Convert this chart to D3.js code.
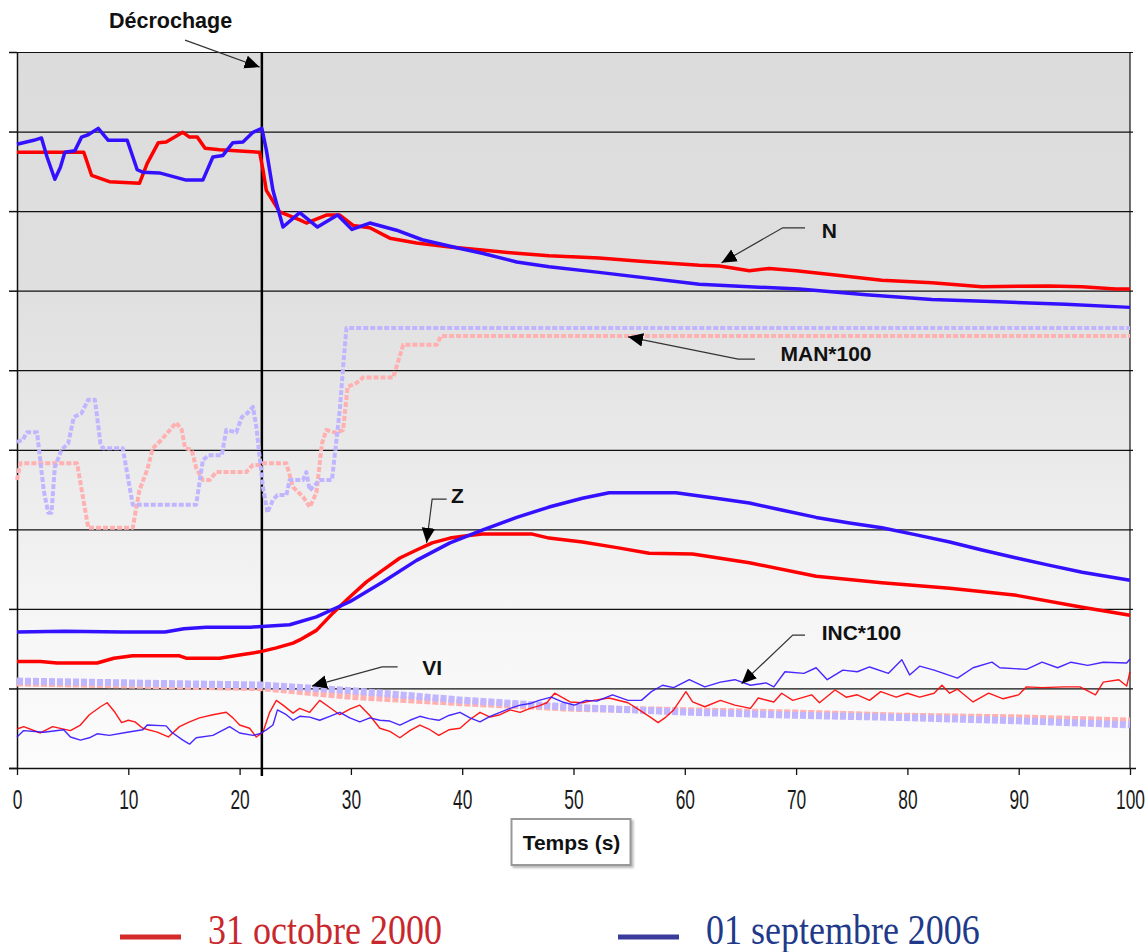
<!DOCTYPE html>
<html><head><meta charset="utf-8">
<script src="https://cdn.jsdelivr.net/npm/d3@7"></script>
<style>
html,body{margin:0;padding:0;background:#fff;}
svg{display:block;}
</style></head>
<body>
<svg id="chart" width="1147" height="952"></svg>
<script>
// ---------- data (time in s, value in chart units 0-90) ----------
const xTicks = [0,10,20,30,40,50,60,70,80,90,100];
const yTicks = [0,10,20,30,40,50,60,70,80,90];
const stallTime = 22;
const legendLabels = ["31 octobre 2000", "01 septembre 2006"];

const nRed = [[0,77.4],[6,77.4],[6.7,74.5],[8.3,73.7],[11,73.5],[11.7,76.0],[12.7,78.6],[13.4,78.7],[14.9,79.9],[15.5,79.3],[16.2,79.3],[16.9,77.9],[18.2,77.7],[21.8,77.4],[22.1,75.2],[22.4,72.6],[23.6,69.9],[25.4,68.9],[26,68.5],[27.8,69.5],[29,69.5],[30.2,68.2],[31.7,67.9],[33.5,66.6],[35.9,66.0],[38.9,65.5],[41.8,65.1],[44.9,64.7],[47.8,64.4],[52.3,64.1],[56,63.7],[61.3,63.2],[63.1,63.1],[64,62.9],[65.8,62.5],[67.6,62.8],[70,62.5],[73.3,62.0],[77.7,61.3],[82.2,61.0],[86.7,60.5],[92.7,60.6],[95.7,60.5],[98.7,60.2],[100,60.2]];
const nBlue = [[0,78.4],[1.5,78.9],[2.2,79.2],[2.7,76.8],[3.4,74.0],[3.9,75.5],[4.3,77.4],[5.2,77.6],[5.8,79.3],[6.4,79.6],[7.3,80.4],[8.2,78.9],[9.9,78.9],[10.8,75.2],[11.3,74.9],[12.8,74.8],[15.2,73.9],[16.7,73.9],[17.6,76.8],[18.5,77.0],[19.4,78.6],[20.3,78.7],[21.2,79.9],[22,80.4],[22.4,77.7],[23,72.6],[23.9,68.0],[25.4,69.8],[27,68.0],[28.8,69.5],[30.1,67.7],[31.7,68.5],[34.1,67.6],[36.4,66.4],[39.5,65.4],[41.8,64.7],[44.9,63.6],[47.8,63.0],[52.3,62.3],[61.3,60.8],[70.3,60.2],[76.3,59.5],[82.2,58.9],[88.2,58.6],[94.2,58.3],[100,57.9]];

const manRed = [[0,36.2],[0.3,38.3],[5.4,38.3],[6.4,30.2],[10.4,30.2],[11,34.9],[11.7,37.5],[12.2,40.2],[12.8,41.0],[13.5,42.1],[14.3,43.4],[14.8,42.5],[15.1,40.2],[15.7,40.0],[16.1,37.7],[16.7,36.2],[17.3,36.2],[17.9,37.2],[20.6,37.2],[21.2,38.1],[21.8,38.1],[22,38.3],[24.2,38.3],[24.8,35.3],[25.7,34.1],[26.3,32.8],[26.9,34.6],[27.4,40.8],[27.8,42.5],[28.7,42.1],[29.3,42.5],[29.7,47.9],[30.5,48.4],[31.1,49.1],[33.8,49.1],[34.7,53.2],[37.7,53.2],[38.1,54.3],[100,54.3]];
const manBlue = [[0,41.0],[0.5,41.2],[0.9,42.2],[1.8,42.2],[2.4,34.9],[2.8,32.1],[3.1,32.1],[3.4,37.8],[4,40.0],[4.6,40.8],[5.1,44.1],[5.8,44.6],[6.4,46.3],[7,46.3],[7.5,40.8],[7.7,40.2],[9.5,40.2],[10.4,33.1],[16.1,33.1],[16.7,38.7],[17.2,39.3],[18.4,39.3],[18.8,42.5],[19.7,42.2],[20.2,44.1],[20.7,44.6],[21.2,45.4],[21.5,42.9],[21.8,39.1],[22.1,35.3],[22.5,32.1],[23,33.7],[23.4,34.3],[24.2,34.3],[24.5,36.2],[25.7,36.2],[26,37.2],[26.3,34.9],[27.2,36.2],[28.3,36.2],[28.7,41.2],[29,45.0],[29.3,50.4],[29.6,55.3],[100,55.3]];

const zRed = [[0,13.4],[2.1,13.4],[3.6,13.2],[7.2,13.2],[8.7,13.8],[10.4,14.1],[14.6,14.1],[15.2,13.8],[18.2,13.8],[20,14.2],[21.8,14.6],[23.3,15.1],[24.8,15.7],[25.4,16.1],[26.9,17.3],[28.4,19.5],[29.9,21.5],[31.4,23.4],[32.9,24.9],[34.4,26.4],[35.9,27.4],[37.3,28.3],[38.9,28.9],[40.4,29.2],[41.8,29.4],[46.3,29.4],[47.8,28.9],[50.8,28.4],[53.9,27.7],[56.8,27.0],[60.7,26.9],[65.8,25.8],[71.8,24.1],[77.7,23.3],[83.8,22.6],[89.8,21.7],[95.7,20.2],[100,19.2]];
const zBlue = [[0,17.1],[4.3,17.2],[9.5,17.1],[13.3,17.1],[15,17.5],[17,17.7],[21,17.7],[24.5,18.0],[26.9,19.0],[29.9,20.9],[32.9,23.4],[35.9,26.1],[38.9,28.3],[41.8,29.9],[44.9,31.5],[47.8,32.8],[50.8,33.9],[53.2,34.6],[59.2,34.6],[62.8,33.9],[65.8,33.3],[68.8,32.4],[71.8,31.5],[74.8,30.8],[77.7,30.2],[80.8,29.3],[83.8,28.4],[86.7,27.4],[89.8,26.4],[92.7,25.5],[95.7,24.6],[100,23.6]];

const viRed = [[0,10.7],[22,10.1],[30,9.0],[40,8.2],[50,7.5],[60,7.2],[70,6.9],[80,6.5],[90,6.3],[100,5.9]];
const viBlue = [[0,10.8],[22,10.3],[30,9.6],[40,8.4],[50,7.5],[60,6.9],[70,6.5],[80,6.2],[90,5.8],[100,5.3]];

const incRed = [[0,4.9],[0.6,5.2],[2.1,4.4],[3.2,5.2],[4.8,4.7],[5.7,5.4],[6.5,6.7],[7.5,7.7],[8.1,8.2],[8.8,7.0],[9.4,5.7],[10,6.0],[10.6,5.8],[11.3,5.0],[12.6,4.5],[13.6,3.9],[14.6,5.2],[15.5,5.8],[16.4,6.3],[17.6,6.7],[18.8,7.0],[19.4,6.3],[20,5.4],[20.9,5.0],[21.5,3.9],[22.1,4.5],[22.7,7.0],[23.3,8.5],[23.9,7.9],[24.8,6.9],[25.4,7.5],[26.3,7.0],[27.2,8.5],[28.1,7.6],[29,6.7],[29.9,7.4],[30.8,7.9],[31.7,6.6],[32.6,5.0],[33.5,4.6],[34.4,3.8],[35.3,4.7],[36.2,5.4],[37,4.9],[37.9,4.1],[38.8,4.8],[39.8,5.0],[40.7,6.1],[41.6,7.0],[42.5,6.4],[43.4,6.7],[44.3,7.3],[45.2,7.0],[46.1,7.5],[46.9,7.8],[47.6,8.2],[48.3,9.4],[49.7,8.3],[50.8,8.2],[51.8,8.5],[53.2,8.8],[54.9,8.2],[55.9,7.3],[57,6.3],[57.6,5.7],[58.3,6.4],[59,7.3],[60.1,9.6],[60.7,8.3],[61.8,7.7],[63.2,8.5],[64.5,7.9],[65.9,7.5],[66.6,8.8],[68,8.3],[68.7,9.4],[69.7,8.5],[71.4,9.2],[72.1,8.2],[73.5,9.8],[74.5,8.9],[75.5,9.2],[76.6,8.5],[77.6,9.6],[79,8.9],[80,9.4],[81.1,8.9],[82.4,9.4],[83.1,10.4],[83.8,9.4],[84.5,9.9],[85.9,8.3],[87.3,9.4],[88.6,8.7],[90,9.2],[90.7,10.2],[92.1,10.1],[94.1,10.2],[95.5,10.2],[96.9,9.2],[97.6,10.8],[99,11.1],[99.7,10.3],[100,12.1]];
const incBlue = [[0,3.9],[0.6,4.7],[2.4,4.5],[4.2,4.8],[4.8,3.9],[5.7,3.5],[6.5,3.8],[7.2,4.3],[8.3,4.1],[9.9,4.5],[11.3,4.8],[11.7,5.4],[13.4,5.3],[13.9,4.5],[14.9,3.5],[15.5,3.0],[16.1,3.8],[17.6,4.1],[19.1,5.2],[20,4.4],[21.2,4.1],[21.8,4.3],[22.4,4.8],[23,5.4],[23.4,7.3],[24.2,6.7],[24.8,6.0],[25.4,6.5],[26.3,6.4],[27.2,6.0],[28.1,6.5],[29,7.0],[29.9,6.3],[30.8,5.8],[31.7,6.3],[32.6,6.0],[33.5,5.9],[34.4,5.4],[35.3,6.0],[36.2,6.5],[37,6.2],[37.9,6.0],[38.8,6.6],[39.8,7.0],[40.7,6.3],[41.6,5.8],[42.5,6.5],[43.4,7.0],[44.3,7.5],[45.2,7.9],[46.1,8.1],[46.9,8.5],[48,8.9],[49,8.3],[50.1,7.9],[51.1,8.5],[52.1,8.4],[53.5,9.2],[54.9,8.5],[56.1,8.5],[57,9.6],[58,10.4],[59,10.1],[60.4,11.1],[61.8,10.2],[63.2,10.8],[64.5,11.1],[65.9,10.4],[67.3,10.7],[68,10.2],[69,12.1],[70.7,11.9],[71.8,12.6],[72.8,11.1],[74.2,12.3],[75.5,12.1],[76.6,12.7],[78.3,11.9],[79.5,13.6],[80.2,11.7],[81.1,12.8],[82.4,12.3],[84.5,11.3],[85.9,12.6],[87.6,13.3],[88.3,12.6],[90.7,12.4],[92.1,13.3],[93.5,12.6],[94.7,13.3],[96.2,12.9],[97.6,13.3],[99.7,13.2],[100,13.7]];

// annotations: label, text anchor point [t,v], leader path points [t,v] ending at arrow tip
const annotations = [
  {label:"N",       text:[72.3,67.6], path:[[70.8,67.9],[68.8,67.9],[63.3,63.5]]},
  {label:"MAN*100", text:[68.6,52.1], path:[[66.3,51.4],[64.8,51.4],[54.9,54.2]]},
  {label:"Z",       text:[39.0,34.2], path:[[38.6,33.8],[37.3,33.8],[36.8,28.3]]},
  {label:"VI",      text:[36.4,12.7], path:[[34.2,12.7],[32.8,12.7],[26.5,10.3]]},
  {label:"INC*100", text:[72.3,17.1], path:[[70.8,16.7],[69.7,16.7],[65.1,10.6]]}
];
const stallLabel = {label:"Décrochage", text:[13.8,94.0], path:[[15.1,91.5],[21.8,88.1]]};

// ---------- layout ----------
const L = 17, R = 1130, T = 52, B = 768;
const svg = d3.select("#chart");
const x = d3.scaleLinear().domain([0,100]).range([L,R]);
const y = d3.scaleLinear().domain([0,90]).range([B,T]);

const RED = "#ff0000", BLUE = "#3311ff", PINK = "#ffb0b0", LAV = "#c0b6ff";

const defs = svg.append("defs");
const grad = defs.append("linearGradient").attr("id","bg").attr("x1",0).attr("y1",0).attr("x2",0).attr("y2",1);
[[0,"#dcdcdc"],[0.32,"#dfdfdf"],[0.55,"#e9e9e9"],[0.78,"#f5f5f5"],[1,"#fcfcfc"]].forEach(s=>grad.append("stop").attr("offset",s[0]).attr("stop-color",s[1]));
defs.append("marker").attr("id","arr").attr("viewBox","0 0 10 10").attr("refX",10).attr("refY",5)
  .attr("markerWidth",15).attr("markerHeight",15).attr("markerUnits","userSpaceOnUse").attr("orient","auto")
  .append("path").attr("d","M0,0.5 L10,5 L0,9.5 Z").attr("fill","#000");
const shadow = defs.append("filter").attr("id","sh").attr("x","-10%").attr("y","-10%").attr("width","130%").attr("height","140%");
shadow.append("feDropShadow").attr("dx",2).attr("dy",2).attr("stdDeviation",1).attr("flood-color","#888").attr("flood-opacity",0.6);

svg.append("rect").attr("x",L).attr("y",T).attr("width",R-L).attr("height",B-T).attr("fill","url(#bg)");

// gridlines
svg.append("g").attr("transform",`translate(${L},0)`)
  .call(d3.axisLeft(y).tickValues(yTicks).tickSize(-(R-L+3)).tickFormat(""))
  .call(g=>g.select(".domain").remove())
  .call(g=>g.selectAll("line").attr("stroke","#111").attr("stroke-width",1.2));
// left axis
svg.append("g").attr("transform",`translate(${L},0)`)
  .call(d3.axisLeft(y).tickValues(yTicks).tickSize(8).tickSizeOuter(0).tickFormat(""))
  .call(g=>g.selectAll("line,path").attr("stroke","#111").attr("stroke-width",1.5));
// right border
svg.append("line").attr("x1",R).attr("x2",R).attr("y1",T).attr("y2",B).attr("stroke","#111").attr("stroke-width",1.2);
// bottom axis
const xa = svg.append("g").attr("transform",`translate(0,${B})`)
  .call(d3.axisBottom(x).tickValues(xTicks).tickSize(7).tickSizeOuter(0).tickPadding(12));
xa.select(".domain").attr("d",`M${L-8},0.5H${R+6}`).attr("stroke","#111").attr("stroke-width",1.5);
xa.selectAll("line").attr("stroke","#111").attr("stroke-width",1.3);
xa.selectAll("text").attr("fill","#1a1a1a").style("font-family","'Liberation Sans',Arial,sans-serif")
  .style("font-size","28px").attr("dy","0.78em").attr("transform","scale(0.62,1)");

// stall line
svg.append("line").attr("x1",x(stallTime)).attr("x2",x(stallTime)).attr("y1",T).attr("y2",B+8)
  .attr("stroke","#000").attr("stroke-width",2.5);

const line = d3.line().x(d=>x(d[0])).y(d=>y(d[1]));
function draw(data, color, width, dash){
  const p = svg.append("path").attr("d",line(data)).attr("fill","none").attr("stroke",color)
    .attr("stroke-width",width).attr("stroke-linejoin","round");
  if(dash) p.attr("stroke-dasharray",dash);
  return p;
}
draw(manRed, PINK, 4, "5,2");
draw(manBlue, LAV, 4, "5,2");
draw(viRed, PINK, 7, "6,2");
draw(viBlue, LAV, 7, "6,2").attr("transform","translate(0,-1)");
draw(incRed, RED, 1.4).attr("opacity",0.9);
draw(incBlue, BLUE, 1.4).attr("opacity",0.9);
draw(zRed, RED, 3.5);
draw(zBlue, BLUE, 3.5);
draw(nRed, RED, 3.5);
draw(nBlue, BLUE, 3.5);

// annotations
const labelFont = "'Liberation Sans',Arial,sans-serif";
function annot(a){
  svg.append("path").attr("d",line(a.path)).attr("fill","none").attr("stroke","#333").attr("stroke-width",1.2)
    .attr("marker-end","url(#arr)");
  svg.append("text").attr("x",x(a.text[0])).attr("y",y(a.text[1])).attr("dy","0.36em")
    .text(a.label).style("font-family",labelFont).style("font-weight","bold").style("font-size","21px").attr("fill","#111");
}
annotations.forEach(annot);
svg.append("path").attr("d",line(stallLabel.path)).attr("fill","none").attr("stroke","#333").attr("stroke-width",1.2).attr("marker-end","url(#arr)");
svg.append("text").attr("x",x(stallLabel.text[0])).attr("y",y(stallLabel.text[1])).attr("dy","0.36em").attr("text-anchor","middle")
  .text(stallLabel.label).style("font-family",labelFont).style("font-weight","bold").style("font-size","21.5px").attr("fill","#111");

// axis title box
const bx = x(50) - 2;
svg.append("rect").attr("x",bx-60).attr("y",819).attr("width",119).attr("height",46).attr("fill","#fff")
  .attr("stroke","#999").attr("stroke-width",2).attr("filter","url(#sh)");
svg.append("text").attr("x",bx).attr("y",842).attr("dy","0.36em").attr("text-anchor","middle").text("Temps (s)")
  .style("font-family",labelFont).style("font-weight","bold").style("font-size","21px").attr("fill","#111");

// legend
const legend = [{label:legendLabels[0], line:"#d42a2a", text:"#c8282d", x:120},
                {label:legendLabels[1], line:"#3b3b9c", text:"#1f3a8a", x:618}];
legend.forEach(l=>{
  svg.append("line").attr("x1",l.x).attr("x2",l.x+61).attr("y1",937).attr("y2",937).attr("stroke",l.line).attr("stroke-width",5);
  svg.append("text").attr("x",0).attr("y",0).text(l.label)
    .attr("transform",`translate(${l.x+88},944) scale(1,1.15)`)
    .style("font-family","'Liberation Serif','Times New Roman',serif").style("font-size","36px").attr("fill",l.text);
});
</script>
</body></html>
